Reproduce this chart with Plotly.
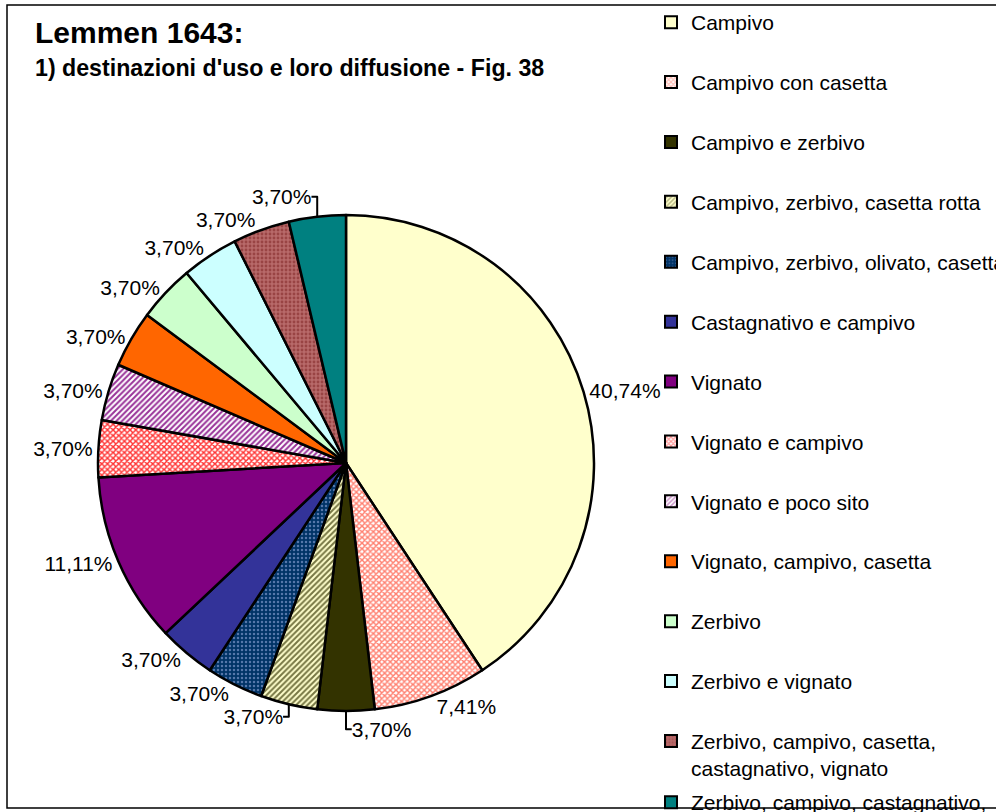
import plotly.graph_objects as go

categories = [
    "Campivo",
    "Campivo con casetta",
    "Campivo e zerbivo",
    "Campivo, zerbivo, casetta rotta",
    "Campivo, zerbivo, olivato, casetta",
    "Castagnativo e campivo",
    "Vignato",
    "Vignato e campivo",
    "Vignato e poco sito",
    "Vignato, campivo, casetta",
    "Zerbivo",
    "Zerbivo e vignato",
    "Zerbivo, campivo, casetta,<br>castagnativo, vignato",
    "Zerbivo, campivo, castagnativo,",
]
values = [11, 2, 1, 1, 1, 1, 3, 1, 1, 1, 1, 1, 1, 1]

bg_colors = ["#FFFFCC", "#FFFFFF", "#333300", "#FFFFCC", "#003366", "#333399", "#800080",
             "#FFFFFF", "#FFFFFF", "#FF6600", "#CCFFCC", "#CCFFFF", "#B86A6A", "#008080"]
fg_colors = ["#FFFFCC", "#FF8070", "#333300", "#777744", "#5577AA", "#333399", "#800080",
             "#FF3333", "#993399", "#FF6600", "#CCFFCC", "#CCFFFF", "#994444", "#008080"]
shapes_pat = ["", "x", "", "/", ".", "", "", "x", "/", "", "", "", ".", ""]
solidities = [0.5, 0.6, 0.5, 0.5, 0.3, 0.5, 0.5, 0.6, 0.5, 0.5, 0.5, 0.5, 0.4, 0.5]

FONT = "Liberation Sans, Arial, sans-serif"

fig = go.Figure()

fig.add_trace(go.Pie(
    labels=categories,
    values=values,
    sort=False,
    direction="clockwise",
    rotation=0,
    texttemplate="%{percent:.2%}",
    textposition="outside",
    textfont=dict(family=FONT, size=21, color="black"),
    marker=dict(
        colors=bg_colors,
        line=dict(color="black", width=2.5),
        pattern=dict(shape=shapes_pat, fgcolor=fg_colors, bgcolor=bg_colors,
                     size=4, solidity=solidities, fillmode="replace"),
    ),
    domain=dict(x=[98 / 996, 594 / 996], y=[(349 - 248) / 812, (349 + 248) / 812]),
    showlegend=False,
    hoverinfo="label+percent",
))

# legend entries (swatches drawn through the library's own legend)
for i, name in enumerate(categories):
    fig.add_trace(go.Bar(
        x=[None], y=[None], name=name,
        marker=dict(color=bg_colors[i], line=dict(color="black", width=2),
                    pattern=dict(shape=shapes_pat[i], fgcolor=fg_colors[i], bgcolor=bg_colors[i],
                                 size=4, solidity=solidities[i])),
        legendgroup="g%d" % i,
        legend="legend" if i < len(categories) - 1 else "legend2",
        showlegend=True,
    ))

LEG_X = 651 / 996

fig.update_layout(
    width=996, height=812,
    margin=dict(l=0, r=0, t=0, b=0, autoexpand=False),
    paper_bgcolor="white", plot_bgcolor="white",
    separators=", ",
    font=dict(family=FONT, size=21, color="black"),
    xaxis=dict(visible=False), yaxis=dict(visible=False),
    legend=dict(x=LEG_X, y=1 - 2 / 812, xanchor="left", yanchor="top",
                tracegroupgap=29.6, valign="top", itemwidth=30, maxheight=1000,
                font=dict(family=FONT, size=21, color="black"),
                bgcolor="rgba(0,0,0,0)", itemclick=False),
    legend2=dict(x=LEG_X, y=1 - 782 / 812, xanchor="left", yanchor="top", itemwidth=30,
                 font=dict(family=FONT, size=21, color="black"),
                 bgcolor="rgba(0,0,0,0)"),
    shapes=[dict(type="rect", xref="paper", yref="paper",
                 x0=7 / 996, x1=1.02, y0=1 - 808 / 812, y1=1 - 5 / 812,
                 line=dict(color="black", width=1.5), fillcolor="rgba(0,0,0,0)", layer="below")],
    annotations=[
        dict(text="<b>Lemmen 1643:</b>", xref="paper", yref="paper", x=33 / 996, y=1 - 14 / 812,
             xanchor="left", yanchor="top", showarrow=False, font=dict(family=FONT, size=30)),
        dict(text="<b>1) destinazioni d'uso e loro diffusione - Fig. 38</b>", xref="paper", yref="paper",
             x=33 / 996, y=1 - 53 / 812, xanchor="left", yanchor="top", showarrow=False,
             font=dict(family=FONT, size=23.2)),
    ],
)

fig.write_html("out.html",
               config={"displayModeBar": False},
               post_script="document.body.style.margin='0';document.body.style.overflow='hidden';")
